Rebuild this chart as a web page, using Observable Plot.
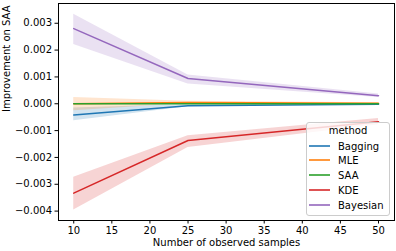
<!DOCTYPE html>
<html>
<head>
<meta charset="utf-8">
<script src="https://cdn.jsdelivr.net/npm/d3@7"></script>
<script src="https://cdn.jsdelivr.net/npm/@observablehq/plot@0.6"></script>
<style>
  html, body { margin: 0; padding: 0; background: #fff; }
  #chart { position: relative; width: 396px; height: 251px; }
  svg { font-family: "DejaVu Sans", sans-serif; }
  #legend {
    position: absolute; left: 306px; top: 122px; width: 82px; height: 92px;
    background: rgba(255,255,255,0.8); border: 1px solid #cccccc; border-radius: 3px;
    font-family: "DejaVu Sans", sans-serif; font-size: 10px; color: #000;
  }
  #legend .title { position: absolute; left: 0; width: 82px; top: 2px; text-align: center; line-height: 12px; }
  #legend .row { position: absolute; left: 2px; height: 12px; line-height: 12px; white-space: nowrap; }
  #legend .sw { display: inline-block; width: 21px; height: 2px; vertical-align: middle; margin-right: 8px; opacity: 0.8; position: relative; top: -1px; }
</style>
</head>
<body>
<div id="chart"></div>
<script>
// ---- data ----
const samples = [10, 25, 50];
const methods = ["Bagging", "MLE", "SAA", "KDE", "Bayesian"];
const colors = ["#1f77b4", "#ff7f0e", "#2ca02c", "#d62728", "#9467bd"];

const baggingMean = [-0.00042, -0.00007, -0.00002];
const baggingLo   = [-0.00063, -0.00011, -0.00004];
const baggingHi   = [-0.00016, -0.00003,  0.00000];

const mleMean = [0.00000, 0.00005, 0.00002];
const mleLo   = [-0.00026, 0.00001, 0.00000];
const mleHi   = [0.00023, 0.00009, 0.00004];

const saaMean = [0, 0, 0];
const saaLo   = [0, 0, 0];
const saaHi   = [0, 0, 0];

const kdeMean = [-0.00333, -0.00137, -0.00067];
const kdeLo   = [-0.00396, -0.00163, -0.00078];
const kdeHi   = [-0.00274, -0.00119, -0.00055];

const bayesMean = [0.00280, 0.00094, 0.00030];
const bayesLo   = [0.00221, 0.00074, 0.00023];
const bayesHi   = [0.00334, 0.00107, 0.00036];

const xTicks = [10, 15, 20, 25, 30, 35, 40, 45, 50];
const yTicks = [-0.004, -0.003, -0.002, -0.001, 0, 0.001, 0.002, 0.003];
const xLabel = "Number of observed samples";
const yLabel = "Improvement on SAA";
const legendTitle = "method";

// ---- build table ----
const series = {
  Bagging: [baggingMean, baggingLo, baggingHi],
  MLE: [mleMean, mleLo, mleHi],
  SAA: [saaMean, saaLo, saaHi],
  KDE: [kdeMean, kdeLo, kdeHi],
  Bayesian: [bayesMean, bayesLo, bayesHi]
};
const rows = [];
for (const m of methods) {
  const [mean, lo, hi] = series[m];
  samples.forEach((s, i) => rows.push({method: m, x: s, y: mean[i], lo: lo[i], hi: hi[i]}));
}

const fmt = d3.format(".3f");

const plot = Plot.plot({
  width: 396,
  height: 251,
  marginLeft: 58,
  marginRight: 2,
  marginTop: 3,
  marginBottom: 31,
  style: {fontFamily: "DejaVu Sans, sans-serif", fontSize: "10px", color: "#000", background: "#fff"},
  x: {domain: [8.0, 52.1]},
  y: {domain: [-0.00435, 0.003736]},
  color: {domain: methods, range: colors},
  marks: [
    Plot.areaY(rows, {x: "x", y1: "lo", y2: "hi", fill: "method", fillOpacity: 0.2, z: "method"}),
    Plot.lineY(rows, {x: "x", y: "y", stroke: "method", strokeWidth: 1.5, z: "method"}),
    Plot.frame({stroke: "#000", strokeWidth: 1}),
    Plot.axisX({ticks: xTicks, tickSize: 3.5, tickPadding: 3, label: null, fontSize: 10}),
    Plot.axisY({ticks: yTicks, tickSize: 3.5, tickPadding: 3, label: null, tickFormat: fmt, fontSize: 10}),
    Plot.text([xLabel], {text: d => d, frameAnchor: "bottom", dy: 25, fontSize: 10, fill: "#000"}),
    Plot.text([yLabel], {text: d => d, frameAnchor: "left", dx: -52, rotate: -90, fontSize: 10, fill: "#000"})
  ]
});
const chart = document.getElementById("chart");
chart.appendChild(plot);

// ---- legend (HTML overlay) ----
const legend = document.createElement("div");
legend.id = "legend";
const t = document.createElement("div");
t.className = "title";
t.textContent = legendTitle;
legend.appendChild(t);
methods.forEach((m, i) => {
  const r = document.createElement("div");
  r.className = "row";
  r.style.top = (17.5 + i * 14.75) + "px";
  const sw = document.createElement("span");
  sw.className = "sw";
  sw.style.background = colors[i];
  r.appendChild(sw);
  r.appendChild(document.createTextNode(m));
  legend.appendChild(r);
});
chart.appendChild(legend);
</script>
</body>
</html>
